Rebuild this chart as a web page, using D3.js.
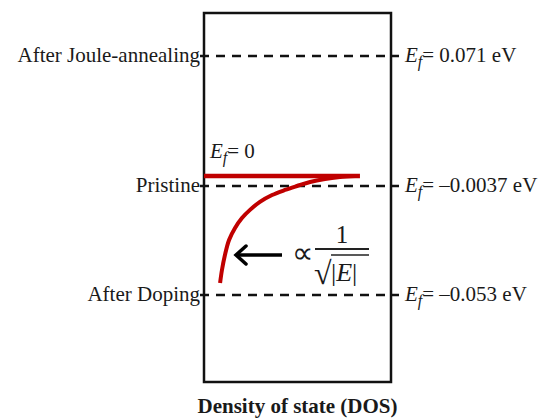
<!DOCTYPE html>
<head>
<meta charset="utf-8">
<title>Density of state</title>
<style>
  body { margin: 0; background: #fff; }
  text { font-family: "Liberation Serif", "Times New Roman", serif; fill: #1a1a1a; }
</style>
</head>
<body>
<script src="https://d3js.org/d3.v7.min.js"></script>
<script>

// Fermi levels for each sample
var levelNames = ["After Joule-annealing", "Pristine", "After Doping"];
var levelEnergy = [0.071, -0.0037, -0.053];
var levelText = ["0.071", "\u20130.0037", "\u20130.053"];

// DOS curve (energy in eV, DOS in arbitrary units)
var curveEnergy = [-0.0476, -0.0417, -0.0349, -0.0281, -0.0227, -0.0182, -0.0145, -0.0109, -0.0078, -0.0055, -0.0037, -0.0022, -0.0011, -0.0004, 0];
var curveDos = [0.086, 0.096, 0.112, 0.134, 0.166, 0.203, 0.246, 0.299, 0.364, 0.433, 0.497, 0.567, 0.647, 0.727, 0.807];

// flat red line at E = 0
var fermiEnergy = 0;
var fermiDos = [0, 0.834];

var width = 553, height = 418;
var box = {left: 204, right: 391, top: 13, bottom: 382};

var svg = d3.select("body").append("svg")
    .attr("width", width)
    .attr("height", height);

var x = d3.scaleLinear()
    .domain([0, 1])
    .range([box.left, box.right]);

// schematic (piecewise) energy axis
var y = d3.scaleLinear()
    .domain([0.071, 0, -0.0037, -0.053])
    .range([56, 176, 186, 295]);

// frame
svg.append("rect")
    .attr("x", x(0))
    .attr("y", box.top)
    .attr("width", x(1) - x(0))
    .attr("height", box.bottom - box.top)
    .attr("fill", "none")
    .attr("stroke", "#111")
    .attr("stroke-width", 2.5);

// dashed Fermi levels
svg.selectAll(".level")
    .data(levelEnergy)
    .enter().append("line")
    .attr("class", "level")
    .attr("x1", x(0) - 4)
    .attr("x2", x(1) + 8)
    .attr("y1", function(d) { return y(d); })
    .attr("y2", function(d) { return y(d); })
    .attr("stroke", "#111")
    .attr("stroke-width", 2.5)
    .attr("stroke-dasharray", "9,7");

svg.selectAll(".lname")
    .data(levelNames)
    .enter().append("text")
    .attr("class", "lname")
    .attr("x", x(0) - 4)
    .attr("y", function(d, i) { return y(levelEnergy[i]) + 6; })
    .attr("text-anchor", "end")
    .attr("font-size", "21px")
    .text(function(d) { return d; });

var ef = svg.selectAll(".ef")
    .data(levelText)
    .enter().append("text")
    .attr("class", "ef")
    .attr("x", x(1) + 14)
    .attr("y", function(d, i) { return y(levelEnergy[i]) + 6; })
    .attr("font-size", "21px");
ef.append("tspan").attr("font-style", "italic").text("E");
ef.append("tspan").attr("font-style", "italic").attr("font-size", "16px").attr("dy", 5).text("f");
ef.append("tspan").attr("dy", -5).text(function(d) { return "= " + d + " eV"; });

// red DOS
var line = d3.line()
    .x(function(d) { return x(d[0]); })
    .y(function(d) { return y(d[1]); })
    .curve(d3.curveCatmullRom);

svg.append("path")
    .datum(curveDos.map(function(d, i) { return [d, curveEnergy[i]]; }))
    .attr("d", line)
    .attr("fill", "none")
    .attr("stroke", "#c00000")
    .attr("stroke-width", 4);

svg.append("line")
    .attr("x1", x(fermiDos[0]))
    .attr("x2", x(fermiDos[1]))
    .attr("y1", y(fermiEnergy))
    .attr("y2", y(fermiEnergy))
    .attr("stroke", "#c00000")
    .attr("stroke-width", 4.5);

var e0 = svg.append("text")
    .attr("x", x(0) + 6)
    .attr("y", y(fermiEnergy) - 18)
    .attr("font-size", "21px");
e0.append("tspan").attr("font-style", "italic").text("E");
e0.append("tspan").attr("font-style", "italic").attr("font-size", "16px").attr("dy", 5).text("f");
e0.append("tspan").attr("dy", -5).text("= 0");

// arrow and 1/sqrt(|E|) note
var ay = 255;
svg.append("line")
    .attr("x1", 282).attr("x2", 237)
    .attr("y1", ay).attr("y2", ay)
    .attr("stroke", "#000").attr("stroke-width", 3.5);
svg.append("path")
    .attr("d", "M246," + (ay - 9) + "L236," + ay + "L246," + (ay + 9))
    .attr("fill", "none").attr("stroke", "#000").attr("stroke-width", 3.5)
    .attr("stroke-linecap", "round");

svg.append("text")
    .attr("x", 302).attr("y", ay + 8)
    .attr("text-anchor", "middle")
    .attr("font-family", "DejaVu Serif")
    .attr("font-size", "30px")
    .text("\u221D");

svg.append("text")
    .attr("x", 342).attr("y", 243)
    .attr("text-anchor", "middle")
    .attr("font-family", "DejaVu Serif")
    .attr("font-size", "25px")
    .text("1");
svg.append("line")
    .attr("x1", 315).attr("x2", 369)
    .attr("y1", 249).attr("y2", 249)
    .attr("stroke", "#222").attr("stroke-width", 1.8);
svg.append("text")
    .attr("x", 314).attr("y", 284)
    .attr("font-family", "DejaVu Serif")
    .attr("font-size", "32px")
    .text("\u221A");
svg.append("line")
    .attr("x1", 331).attr("x2", 369)
    .attr("y1", 255).attr("y2", 255)
    .attr("stroke", "#222").attr("stroke-width", 1.5);
var absE = svg.append("text")
    .attr("x", 331).attr("y", 281)
    .attr("font-family", "DejaVu Serif")
    .attr("font-size", "26px");
absE.append("tspan").text("|");
absE.append("tspan").attr("font-style", "italic").text("E");
absE.append("tspan").text("|");

// axis title
svg.append("text")
    .attr("x", (x(0) + x(1)) / 2)
    .attr("y", 413)
    .attr("text-anchor", "middle")
    .attr("font-size", "21px")
    .attr("font-weight", "bold")
    .text("Density of state (DOS)");

</script>
</body>
